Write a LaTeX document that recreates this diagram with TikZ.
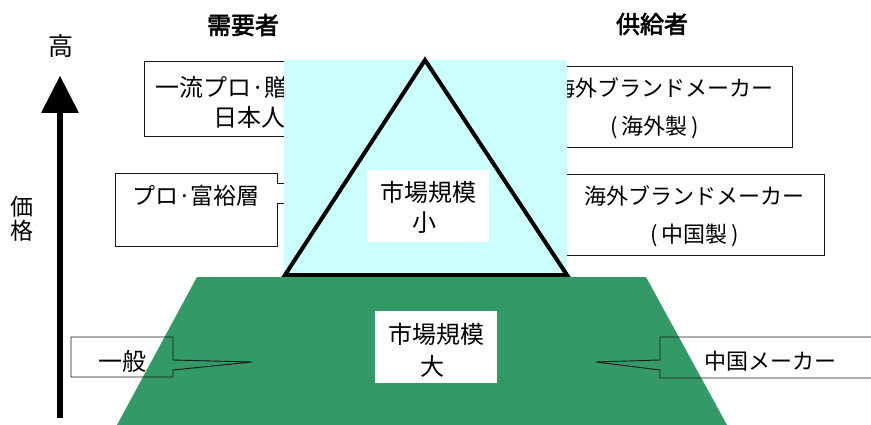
\documentclass[tikz,border=0pt]{standalone}
\usepackage{fontspec}
\setmainfont{Noto Sans CJK JP}
\newfontfamily\jpbold[FakeBold=2.5]{Noto Sans CJK JP}
\definecolor{cyanbg}{HTML}{CCFFFF}
\definecolor{seagreen}{HTML}{339966}
\begin{document}
\begin{tikzpicture}[x=1pt,y=-1pt,
  txt/.style={inner sep=0pt, font=\fontsize{24}{28}\selectfont},
  txtk/.style={inner sep=0pt, font=\fontsize{22}{26}\selectfont},
  ttl/.style={inner sep=0pt, font=\fontsize{24}{28}\jpbold},
  boxline/.style={draw=black!90, line width=0.9pt},
  whitebox/.style={fill=white, draw=none}]
\useasboundingbox (0,0) rectangle (871,425);
\begin{scope}
\clip (0,0) rectangle (871,425);
% upper boxes (partly hidden by the cyan field)
\draw[boxline] (144,61) rectangle (300,136);
\node[txt, anchor=west] (lb1a) at (155,87) {一流プロ·贈};
\node[txt, anchor=west] (lb1b) at (213,117) {日本人};
\draw[boxline] (277,183) -- (277,173) -- (115,173) -- (115,246) -- (277,246) -- (277,203) -- (300,203);
\draw[boxline] (277,183) -- (300,183);
\node[txt, font=\fontsize{23}{27}\selectfont] (lb2) at (196,196) {プロ·富裕層};
\draw[boxline] (792,66) -- (550,66) -- (550,147) -- (792,147) -- cycle;
\node[txtk, anchor=east] (rb1a) at (774,88) {海外ブランドメーカー};
\node[txtk] (rb1b) at (655,127) {(\hspace{4pt}海外製\hspace{4pt})};
\draw[boxline] (550,174) rectangle (824,255);
\node[txtk] (rb2a) at (694,196) {海外ブランドメーカー};
\node[txtk] (rb2b) at (695,235) {(\hspace{4pt}中国製\hspace{4pt})};
% cyan field and triangle
\fill[cyanbg] (284,60) rectangle (567,278);
\coordinate (apex) at (425,60);
\coordinate (bl) at (285,275);
\coordinate (br) at (567,275);
\draw[line width=4pt, line join=miter] (apex) -- (br) -- (bl) -- cycle;
% green trapezoid
\fill[seagreen] (197,277) -- (646,277) -- (727,425) -- (117,425) -- cycle;
% market size boxes
\fill[whitebox] (367,170) rectangle (489,242);
\node[txt] (ms1) at (428,192) {市場規模};
\node[txt] (ms2) at (424,223) {小};
\fill[whitebox] (375,311) rectangle (497,383);
\node[txt] (ml1) at (436,334) {市場規模};
\node[txt] (ml2) at (432,366) {大};
% lower callouts
\coordinate (tipL) at (252,362);
\coordinate (tipR) at (596,362);
\draw[boxline] (173,360) -- (tipL) -- (173,370) -- (173,377) -- (71,377) -- (71,337) -- (173,337) -- cycle;
\node[txt] (ippan) at (122,361) {一般};
\draw[boxline] (880,337) -- (660,337) -- (660,360) -- (tipR) -- (660,370) -- (660,378) -- (880,378);
\node[txtk] (chuu) at (770,361) {中国メーカー};
\end{scope}
% titles
\node[ttl] (dem) at (243,25) {需要者};
\node[ttl] (sup) at (652,24) {供給者};
% price axis
\coordinate (axb) at (60,418);
\coordinate (axh) at (60,113);
\coordinate (axt) at (60,76);
\fill (57,418) rectangle (63,112);
\fill (41,113) -- (axt) -- (79,113) -- cycle;
\node[txt, font=\fontsize{25}{29}\selectfont] (hi) at (61,46) {高};
\node[txt, font=\fontsize{23}{27}\selectfont] (pa) at (22,207) {価};
\node[txt, font=\fontsize{23}{27}\selectfont] (pb) at (22,231) {格};
\end{tikzpicture}
\end{document}
